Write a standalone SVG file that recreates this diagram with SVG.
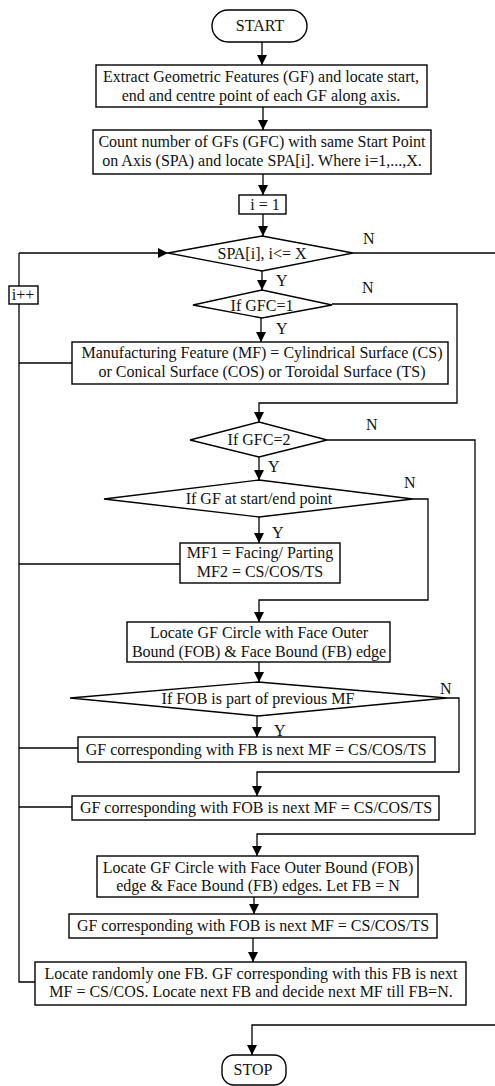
<svg xmlns="http://www.w3.org/2000/svg" width="495" height="1086" viewBox="0 0 495 1086">
<style>
.b{fill:#fff;stroke:#000;stroke-width:1.4}
.c{fill:none;stroke:#000;stroke-width:1.3}
.t{font-family:"Liberation Serif","Times New Roman",serif;font-size:16px;fill:#111;text-anchor:middle}
.l{font-family:"Liberation Serif","Times New Roman",serif;font-size:16px;fill:#111}
</style>
<defs>
<marker id="ah" markerUnits="userSpaceOnUse" markerWidth="10" markerHeight="10" refX="10" refY="5" orient="auto">
<path d="M0,0 L10,5 L0,10 z" fill="#000"/>
</marker>
</defs>
<rect width="495" height="1086" fill="#fff"/>
<g id="connectors">
<path class="c" d="M262,42 V65" marker-end="url(#ah)"/>
<path class="c" d="M263,107 V130" marker-end="url(#ah)"/>
<path class="c" d="M263,174 V195" marker-end="url(#ah)"/>
<path class="c" d="M263,214 V236" marker-end="url(#ah)"/>
<path class="c" d="M353,253 H495"/>
<path class="c" d="M19,253 H168" marker-end="url(#ah)"/>
<path class="c" d="M19,253 V286"/>
<path class="c" d="M19,304 V982 H35"/>
<path class="c" d="M262,271 V290" marker-end="url(#ah)"/>
<path class="c" d="M332,304 H457 V403 H259 V422" marker-end="url(#ah)"/>
<path class="c" d="M261,318 V342" marker-end="url(#ah)"/>
<path class="c" d="M72,363 H19"/>
<path class="c" d="M327,440 H475 V834 H257 V856" marker-end="url(#ah)"/>
<path class="c" d="M259,457 V480" marker-end="url(#ah)"/>
<path class="c" d="M413,499 H428 V600 H259 V622" marker-end="url(#ah)"/>
<path class="c" d="M259,517 V543" marker-end="url(#ah)"/>
<path class="c" d="M180,564 H19"/>
<path class="c" d="M259,662 V682" marker-end="url(#ah)"/>
<path class="c" d="M447,698 H459 V772 H257 V796" marker-end="url(#ah)"/>
<path class="c" d="M257,716 V737" marker-end="url(#ah)"/>
<path class="c" d="M78,748 H19"/>
<path class="c" d="M72,807 H19"/>
<path class="c" d="M254,897 V914" marker-end="url(#ah)"/>
<path class="c" d="M253,938 V962" marker-end="url(#ah)"/>
<path class="c" d="M495,1025 H252 V1055" marker-end="url(#ah)"/>
<text class="l" x="363" y="244">N</text>
<text class="l" x="276" y="286">Y</text>
<text class="l" x="362" y="293">N</text>
<text class="l" x="276" y="334">Y</text>
<text class="l" x="366" y="430">N</text>
<text class="l" x="268" y="472">Y</text>
<text class="l" x="404" y="488">N</text>
<text class="l" x="272" y="538">Y</text>
<text class="l" x="440" y="694">N</text>
<text class="l" x="274" y="736">Y</text>
</g>
<g id="start">
<rect class="b" x="212" y="10" width="95" height="32" rx="16"/>
<text class="t" x="260" y="31">START</text>
</g>
<g id="extract">
<rect class="b" x="96" y="65" width="331" height="42"/>
<text class="t" x="261" y="82">Extract Geometric Features (GF) and locate start,</text>
<text class="t" x="261" y="101">end and centre point of each GF along axis.</text>
</g>
<g id="count">
<rect class="b" x="93" y="130" width="338" height="44"/>
<text class="t" x="262" y="147">Count number of GFs (GFC) with same Start Point</text>
<text class="t" x="262" y="166">on Axis (SPA) and locate SPA[i]. Where i=1,...,X.</text>
</g>
<g id="init">
<rect class="b" x="239" y="195" width="47" height="19"/>
<text class="t" x="265" y="210">i = 1</text>
</g>
<g id="spa">
<polygon class="b" points="168,253 262,236 353,253 262,271"/>
<text class="t" x="262" y="259">SPA[i], i&lt;= X</text>
</g>
<g id="inc">
<rect class="b" x="9" y="286" width="29" height="18"/>
<text class="t" x="23" y="300">i++</text>
</g>
<g id="gfc1">
<polygon class="b" points="193,305 262,290 332,305 262,318"/>
<text class="t" x="262" y="311">If GFC=1</text>
</g>
<g id="mf">
<rect class="b" x="72" y="342" width="376" height="42"/>
<text class="t" x="262" y="358">Manufacturing Feature (MF) = Cylindrical Surface (CS)</text>
<text class="t" x="262" y="377">or Conical Surface (COS) or Toroidal Surface (TS)</text>
</g>
<g id="gfc2">
<polygon class="b" points="190,440 259,422 327,440 259,457"/>
<text class="t" x="259" y="445">If GFC=2</text>
</g>
<g id="startend">
<polygon class="b" points="104,499 259,480 413,499 259,517"/>
<text class="t" x="259" y="504">If GF at start/end point</text>
</g>
<g id="mf12">
<rect class="b" x="180" y="543" width="160" height="40"/>
<text class="t" x="260" y="558">MF1 = Facing/ Parting</text>
<text class="t" x="260" y="577">MF2 = CS/COS/TS</text>
</g>
<g id="locate1">
<rect class="b" x="127" y="622" width="263" height="40"/>
<text class="t" x="259" y="638">Locate GF Circle with Face Outer</text>
<text class="t" x="259" y="657">Bound (FOB) &amp; Face Bound (FB) edge</text>
</g>
<g id="fob">
<polygon class="b" points="70,698 258,682 447,698 258,716"/>
<text class="t" x="258" y="704">If FOB is part of previous MF</text>
</g>
<g id="fbmf">
<rect class="b" x="78" y="737" width="357" height="25"/>
<text class="t" x="256" y="755">GF corresponding with FB is next MF = CS/COS/TS</text>
</g>
<g id="fobmf">
<rect class="b" x="72" y="796" width="367" height="24"/>
<text class="t" x="256" y="813">GF corresponding with FOB is next MF = CS/COS/TS</text>
</g>
<g id="locate2">
<rect class="b" x="97" y="856" width="321" height="41"/>
<text class="t" x="258" y="873">Locate GF Circle with Face Outer Bound (FOB)</text>
<text class="t" x="258" y="891">edge &amp; Face Bound (FB) edges. Let FB = N</text>
</g>
<g id="fobmf2">
<rect class="b" x="69" y="914" width="368" height="24"/>
<text class="t" x="253" y="931">GF corresponding with FOB is next MF = CS/COS/TS</text>
</g>
<g id="random">
<rect class="b" x="35" y="962" width="431" height="43"/>
<text class="t" x="251" y="979">Locate randomly one FB. GF corresponding with this FB is next</text>
<text class="t" x="251" y="997">MF = CS/COS. Locate next FB and decide next MF till FB=N.</text>
</g>
<g id="stop">
<rect class="b" x="222" y="1055" width="64" height="30" rx="12"/>
<text class="t" x="253" y="1075">STOP</text>
</g>
</svg>
